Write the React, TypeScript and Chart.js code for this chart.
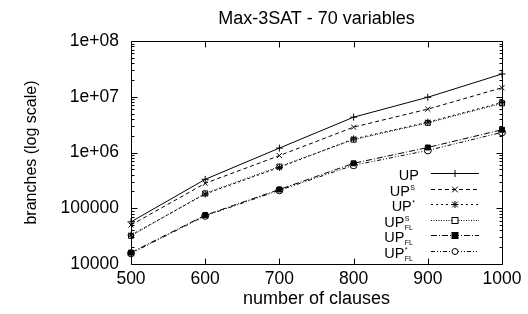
import React, { useEffect, useRef } from 'react';
import { Chart, registerables } from 'chart.js';

Chart.register(...registerables);

// ---- data ----
const clauses = [500, 600, 700, 800, 900, 1000];
const up = [57000, 330000, 1200000, 4300000, 9800000, 25600000];
const upS = [50000, 280000, 880000, 2850000, 6000000, 14500000];
const upStar = [33000, 180000, 540000, 1750000, 3500000, 7900000];
const upSFL = [32000, 185000, 560000, 1700000, 3400000, 7600000];
const upFL = [16000, 75000, 217000, 640000, 1230000, 2560000];
const upStarFL = [15500, 73000, 210000, 590000, 1090000, 2300000];

const yTicks = [10000, 100000, 1000000, 10000000, 100000000];
const yTickLabels = ['10000', '100000', '1e+06', '1e+07', '1e+08'];
const xTicks = [500, 600, 700, 800, 900, 1000];
const xTickLabels = ['500', '600', '700', '800', '900', '1000'];

const titleText = 'Max-3SAT - 70 variables';
const xTitle = 'number of clauses';
const yTitle = 'branches (log scale)';

// legend label parts: base, superscript, subscript
const seriesBase = ['UP', 'UP', 'UP', 'UP', 'UP', 'UP'];
const seriesSup = ['', 'S', '*', 'S', '', '*'];
const seriesSub = ['', '', '', 'FL', 'FL', 'FL'];

const FONT = '"Liberation Sans", Arial, Helvetica, sans-serif';

const seriesData = [up, upS, upStar, upSFL, upFL, upStarFL];
const dashes: number[][] = [[], [4, 3], [2, 3], [1, 1.5], [6, 2, 1, 2], [4, 2, 1, 2, 1, 2]];
const markers = ['plus', 'x', 'star', 'osquare', 'fsquare', 'ocircle'];
const pointStyles: any[] = ['cross', 'crossRot', 'star', 'rect', 'rect', 'circle'];
const pointFills = ['#000', '#000', '#000', '#fff', '#000', '#fff'];

function drawMarker(ctx: CanvasRenderingContext2D, kind: string, x: number, y: number) {
  const r = 3.5;
  ctx.save();
  ctx.setLineDash([]);
  ctx.strokeStyle = '#000';
  ctx.lineWidth = 1;
  ctx.beginPath();
  if (kind === 'plus' || kind === 'star') {
    ctx.moveTo(x - r, y); ctx.lineTo(x + r, y);
    ctx.moveTo(x, y - r); ctx.lineTo(x, y + r);
  }
  if (kind === 'x' || kind === 'star') {
    const d = r * 0.8;
    ctx.moveTo(x - d, y - d); ctx.lineTo(x + d, y + d);
    ctx.moveTo(x - d, y + d); ctx.lineTo(x + d, y - d);
  }
  ctx.stroke();
  if (kind === 'osquare' || kind === 'fsquare') {
    ctx.fillStyle = kind === 'fsquare' ? '#000' : '#fff';
    ctx.fillRect(x - 3, y - 3, 6, 6);
    ctx.strokeRect(x - 3, y - 3, 6, 6);
  }
  if (kind === 'ocircle') {
    ctx.fillStyle = '#fff';
    ctx.beginPath();
    ctx.arc(x, y, 3, 0, Math.PI * 2);
    ctx.fill();
    ctx.stroke();
  }
  ctx.restore();
}

const decorPlugin = {
  id: 'decor',
  afterDraw(chart: any) {
    const { ctx, chartArea, scales } = chart;
    const { left, right, top, bottom } = chartArea;
    const xs = scales.x;
    const ys = scales.y;
    ctx.save();
    ctx.strokeStyle = '#000';
    ctx.lineWidth = 1;
    ctx.setLineDash([]);
    const L = Math.round(left) + 0.5;
    const R = Math.round(right) + 0.5;
    const T = Math.round(top) + 0.5;
    const B = Math.round(bottom) + 0.5;
    ctx.beginPath();
    ctx.rect(L, T, R - L, B - T);
    // x major ticks
    xTicks.forEach((v) => {
      const px = Math.round(xs.getPixelForValue(v)) + 0.5;
      ctx.moveTo(px, B); ctx.lineTo(px, B - 6);
      ctx.moveTo(px, T); ctx.lineTo(px, T + 6);
    });
    // y major + minor ticks
    yTicks.forEach((d, i) => {
      const py = Math.round(ys.getPixelForValue(d)) + 0.5;
      ctx.moveTo(L, py); ctx.lineTo(L + 6, py);
      ctx.moveTo(R, py); ctx.lineTo(R - 6, py);
      if (i < yTicks.length - 1) {
        for (let k = 2; k <= 9; k++) {
          const pm = Math.round(ys.getPixelForValue(d * k)) + 0.5;
          ctx.moveTo(L, pm); ctx.lineTo(L + 3, pm);
          ctx.moveTo(R, pm); ctx.lineTo(R - 3, pm);
        }
      }
    });
    ctx.stroke();

    // title
    ctx.fillStyle = '#000';
    ctx.font = `18px ${FONT}`;
    ctx.textAlign = 'center';
    ctx.textBaseline = 'alphabetic';
    ctx.fillText(titleText, (left + right) / 2, 24);

    // legend
    const textRights = [419, 415, 415, 413, 413, 413];
    const sx0 = 431;
    const sx1 = 479;
    const rowY = [172.5, 188.5, 203.5, 219.5, 235, 250.5];
    seriesBase.forEach((base, i) => {
      const y = rowY[i];
      ctx.font = `14.5px ${FONT}`;
      const bw = ctx.measureText(base).width;
      ctx.font = `7px ${FONT}`;
      const supW = seriesSup[i] ? ctx.measureText(seriesSup[i]).width : 0;
      const subW = seriesSub[i] ? ctx.measureText(seriesSub[i]).width : 0;
      const extra = Math.max(supW, subW);
      const x0 = textRights[i] - bw - extra - (extra > 0 ? 0.5 : 0);
      ctx.textAlign = 'left';
      ctx.textBaseline = 'alphabetic';
      ctx.font = `14.5px ${FONT}`;
      ctx.fillText(base, x0, y + 7);
      ctx.font = `7px ${FONT}`;
      if (seriesSup[i]) ctx.fillText(seriesSup[i], x0 + bw + 0.5, y + 1);
      if (seriesSub[i]) ctx.fillText(seriesSub[i], x0 + bw + 0.5, y + 10);
      // sample line
      ctx.save();
      ctx.setLineDash(dashes[i]);
      ctx.beginPath();
      ctx.moveTo(sx0, Math.round(y) + 0.5);
      ctx.lineTo(sx1, Math.round(y) + 0.5);
      ctx.stroke();
      ctx.restore();
      drawMarker(ctx, markers[i], (sx0 + sx1) / 2, Math.round(y) + 0.5);
    });
    ctx.restore();
  },
};

export default function App() {
  const ref = useRef<HTMLCanvasElement | null>(null);
  useEffect(() => {
    document.body.style.margin = '0';
    const canvas = ref.current;
    if (!canvas) return;
    const chart = new Chart(canvas, {
      type: 'line',
      data: {
        datasets: seriesData.map((vals, i) => ({
          label: seriesBase[i] + seriesSup[i] + seriesSub[i],
          data: clauses.map((c, j) => ({ x: c, y: vals[j] })),
          borderColor: '#000',
          borderWidth: 1,
          borderDash: dashes[i],
          pointStyle: pointStyles[i],
          pointRadius: 3.5,
          pointBorderWidth: 1,
          pointBorderColor: '#000',
          pointBackgroundColor: pointFills[i],
          tension: 0,
          fill: false,
          clip: false as any,
        })),
      },
      options: {
        responsive: false,
        animation: false,
        devicePixelRatio: 1,
        layout: { padding: { top: 41, right: 26, left: 0, bottom: 0 } },
        plugins: {
          legend: { display: false },
          tooltip: { enabled: false },
          title: { display: false },
        },
        scales: {
          x: {
            type: 'linear',
            min: 500,
            max: 1000,
            afterBuildTicks: (s: any) => {
              s.ticks = xTicks.map((v) => ({ value: v }));
            },
            afterFit: (s: any) => {
              s.height = 50;
            },
            grid: { display: false, drawTicks: false },
            border: { display: false },
            ticks: {
              color: '#000',
              font: { family: FONT, size: 17.5 },
              padding: 4.5,
              maxRotation: 0,
              autoSkip: false,
              callback: (v: any) => {
                const idx = xTicks.indexOf(Number(v));
                return idx >= 0 ? xTickLabels[idx] : '';
              },
            },
            title: {
              display: true,
              text: xTitle,
              color: '#000',
              font: { family: FONT, size: 18 },
              padding: { top: 0, bottom: 4.5 },
            },
          },
          y: {
            type: 'logarithmic',
            min: 10000,
            max: 100000000,
            afterBuildTicks: (s: any) => {
              s.ticks = yTicks.map((v) => ({ value: v }));
            },
            afterFit: (s: any) => {
              s.width = 131;
            },
            grid: { display: false, drawTicks: false },
            border: { display: false },
            ticks: {
              color: '#000',
              font: { family: FONT, size: 17.5 },
              padding: 12,
              autoSkip: false,
              callback: (v: any) => {
                const idx = yTicks.indexOf(Number(v));
                return idx >= 0 ? yTickLabels[idx] : '';
              },
            },
            title: {
              display: true,
              text: yTitle,
              color: '#000',
              font: { family: FONT, size: 16 },
              padding: { top: 21.5, bottom: 0 },
            },
          },
        },
      },
      plugins: [decorPlugin],
    } as any);
    return () => chart.destroy();
  }, []);
  return (
    <div style={{ width: 528, height: 314 }}>
      <canvas ref={ref} width={528} height={314} style={{ display: 'block' }} />
    </div>
  );
}
